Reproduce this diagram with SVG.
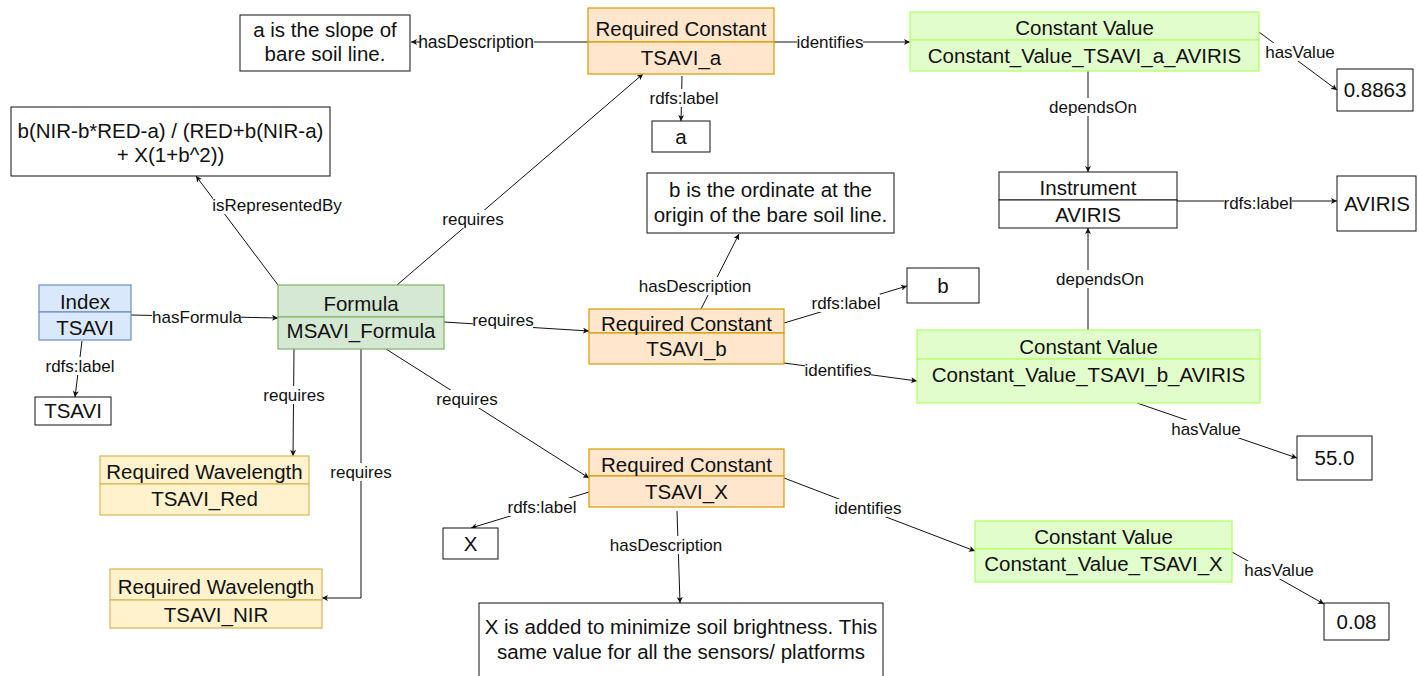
<svg xmlns="http://www.w3.org/2000/svg" width="1419" height="676" viewBox="0 0 1419 676">
  <defs>
    <marker id="arrow" markerUnits="userSpaceOnUse" markerWidth="7" markerHeight="6" refX="6" refY="3" orient="auto">
      <path d="M0,0 L6,3 L0,6 L1.5,3 z" fill="#111"/>
    </marker>
    <style>
      text { font-family: "Liberation Sans", Arial, sans-serif; fill: #111; }
      .n { font-size: 20.5px; text-anchor: middle; }
      .l { font-size: 17px; text-anchor: middle; }
      .lb { fill: #fff; stroke: none; }
      .edge { fill: none; stroke: #111; stroke-width: 1; }
      .arr { marker-end: url(#arrow); }
      .plain { fill: #fff; stroke: #111; stroke-width: 1; }
      .rc { fill: #ffe6cc; stroke: #d79b00; stroke-width: 1.2; }
      .rw { fill: #fff2cc; stroke: #d6b656; stroke-width: 1.2; }
      .cv { fill: #e2fdcc; stroke: #b3ff66; stroke-width: 1.2; }
      .ix { fill: #dae8fc; stroke: #6c8ebf; stroke-width: 1.2; }
      .fm { fill: #d5e8d4; stroke: #82b366; stroke-width: 1.2; }
    </style>
  </defs>

  <!-- connectors -->
  <g id="connectors">
    <line class="edge arr" x1="588" y1="42" x2="411" y2="42"/>
    <line class="edge arr" x1="774" y1="42" x2="910" y2="42"/>
    <line class="edge arr" x1="682" y1="76" x2="681" y2="121"/>
    <line class="edge arr" x1="1259" y1="32" x2="1337" y2="90"/>
    <line class="edge arr" x1="1088" y1="71" x2="1088" y2="172"/>
    <line class="edge arr" x1="1177" y1="201" x2="1337" y2="201"/>
    <line class="edge arr" x1="1088" y1="330" x2="1088" y2="228"/>
    <line class="edge arr" x1="701" y1="309" x2="739" y2="234"/>
    <line class="edge arr" x1="784" y1="323" x2="907" y2="286"/>
    <line class="edge arr" x1="784" y1="363" x2="917" y2="381"/>
    <line class="edge arr" x1="1137" y1="403" x2="1297" y2="458"/>
    <line class="edge arr" x1="131" y1="315" x2="278" y2="318"/>
    <line class="edge arr" x1="82" y1="341" x2="75" y2="397"/>
    <line class="edge arr" x1="278" y1="285" x2="196" y2="176"/>
    <line class="edge arr" x1="397" y1="285" x2="643" y2="74"/>
    <line class="edge arr" x1="444" y1="322" x2="589" y2="331"/>
    <line class="edge arr" x1="386" y1="349" x2="589" y2="478"/>
    <line class="edge arr" x1="294" y1="349" x2="293" y2="456"/>
    <polyline class="edge arr" points="361,349 361,598 322,598"/>
    <line class="edge arr" x1="589" y1="492" x2="471" y2="528"/>
    <line class="edge arr" x1="677" y1="511" x2="680" y2="603"/>
    <line class="edge arr" x1="784" y1="478" x2="975" y2="551"/>
    <line class="edge arr" x1="1232" y1="552" x2="1324" y2="604"/>

    <!-- connector labels -->
    <rect class="lb" x="420" y="33" width="114" height="18"/><text class="l" x="476" y="48" style="font-size:17.5px">hasDescription</text>
    <rect class="lb" x="797" y="33" width="66" height="18"/><text class="l" x="830" y="48">identifies</text>
    <rect class="lb" x="650" y="89" width="68" height="18"/><text class="l" x="684" y="104">rdfs:label</text>
    <rect class="lb" x="1265" y="43" width="70" height="18"/><text class="l" x="1300" y="58">hasValue</text>
    <rect class="lb" x="1049" y="98" width="87" height="18"/><text class="l" x="1093" y="113">dependsOn</text>
    <rect class="lb" x="1224" y="194" width="68" height="18"/><text class="l" x="1258" y="209">rdfs:label</text>
    <rect class="lb" x="1056" y="270" width="87" height="18"/><text class="l" x="1100" y="285">dependsOn</text>
    <rect class="lb" x="639" y="277" width="111" height="18"/><text class="l" x="695" y="292">hasDescription</text>
    <rect class="lb" x="812" y="294" width="68" height="18"/><text class="l" x="846" y="309">rdfs:label</text>
    <rect class="lb" x="805" y="361" width="66" height="18"/><text class="l" x="838" y="376">identifies</text>
    <rect class="lb" x="1171" y="420" width="70" height="18"/><text class="l" x="1206" y="435">hasValue</text>
    <rect class="lb" x="152" y="308" width="89" height="18"/><text class="l" x="197" y="323">hasFormula</text>
    <rect class="lb" x="46" y="357" width="68" height="18"/><text class="l" x="80" y="372">rdfs:label</text>
    <rect class="lb" x="213" y="196" width="128" height="18"/><text class="l" x="277" y="211">isRepresentedBy</text>
    <rect class="lb" x="443" y="210" width="60" height="18"/><text class="l" x="473" y="225">requires</text>
    <rect class="lb" x="473" y="311" width="60" height="18"/><text class="l" x="503" y="326">requires</text>
    <rect class="lb" x="437" y="390" width="60" height="18"/><text class="l" x="467" y="405">requires</text>
    <rect class="lb" x="264" y="386" width="60" height="18"/><text class="l" x="294" y="401">requires</text>
    <rect class="lb" x="331" y="463" width="60" height="18"/><text class="l" x="361" y="478">requires</text>
    <rect class="lb" x="508" y="498" width="68" height="18"/><text class="l" x="542" y="513">rdfs:label</text>
    <rect class="lb" x="611" y="536" width="111" height="18"/><text class="l" x="666" y="551">hasDescription</text>
    <rect class="lb" x="835" y="499" width="66" height="18"/><text class="l" x="868" y="514">identifies</text>
    <rect class="lb" x="1244" y="561" width="70" height="18"/><text class="l" x="1279" y="576">hasValue</text>
  </g>

  <!-- description of a -->
  <g id="desc-a">
    <rect class="plain" x="240" y="15" width="170" height="56"/>
    <text class="n" x="325" y="37">a is the slope of</text>
    <text class="n" x="325" y="61">bare soil line.</text>
  </g>

  <!-- formula expression -->
  <g id="formula-expr">
    <rect class="plain" x="11" y="107" width="319" height="69"/>
    <text class="n" x="170.5" y="138">b(NIR-b*RED-a) / (RED+b(NIR-a)</text>
    <text class="n" x="170.5" y="162">+ X(1+b^2))</text>
  </g>

  <g id="const-a">
    <rect class="rc" x="588" y="8" width="186" height="34"/>
    <rect class="rc" x="588" y="42" width="186" height="32"/>
    <text class="n" x="681" y="36">Required Constant</text>
    <text class="n" x="681" y="65">TSAVI_a</text>
  </g>

  <g id="label-a">
    <rect class="plain" x="652" y="121" width="58" height="31"/>
    <text class="n" x="681" y="144">a</text>
  </g>

  <g id="value-a">
    <rect class="cv" x="910" y="12" width="349" height="28"/>
    <rect class="cv" x="910" y="40" width="349" height="31"/>
    <text class="n" x="1084.5" y="35">Constant Value</text>
    <text class="n" x="1084.5" y="63">Constant_Value_TSAVI_a_AVIRIS</text>
  </g>

  <g id="num-a">
    <rect class="plain" x="1337" y="69" width="76" height="42"/>
    <text class="n" x="1375" y="97">0.8863</text>
  </g>

  <g id="instrument">
    <rect class="plain" x="999" y="172" width="178" height="28"/>
    <rect class="plain" x="999" y="200" width="178" height="28"/>
    <text class="n" x="1088" y="195">Instrument</text>
    <text class="n" x="1088" y="222">AVIRIS</text>
  </g>

  <g id="label-aviris">
    <rect class="plain" x="1337" y="176" width="79" height="55"/>
    <text class="n" x="1377" y="211">AVIRIS</text>
  </g>

  <g id="desc-b">
    <rect class="plain" x="647" y="173" width="247" height="60"/>
    <text class="n" x="770.5" y="197">b is the ordinate at the</text>
    <text class="n" x="770.5" y="222">origin of the bare soil line.</text>
  </g>

  <g id="const-b">
    <rect class="rc" x="589" y="309" width="195" height="24"/>
    <rect class="rc" x="589" y="333" width="195" height="31"/>
    <text class="n" x="686.5" y="331">Required Constant</text>
    <text class="n" x="686.5" y="356">TSAVI_b</text>
  </g>

  <g id="label-b">
    <rect class="plain" x="907" y="268" width="72" height="35"/>
    <text class="n" x="943" y="293">b</text>
  </g>

  <g id="value-b">
    <rect class="cv" x="917" y="330" width="343" height="29"/>
    <rect class="cv" x="917" y="359" width="343" height="44"/>
    <text class="n" x="1088.5" y="354">Constant Value</text>
    <text class="n" x="1088.5" y="382">Constant_Value_TSAVI_b_AVIRIS</text>
  </g>

  <g id="num-b">
    <rect class="plain" x="1297" y="436" width="75" height="44"/>
    <text class="n" x="1334.5" y="465">55.0</text>
  </g>

  <g id="index">
    <rect class="ix" x="39" y="285" width="92" height="27"/>
    <rect class="ix" x="39" y="312" width="92" height="28"/>
    <text class="n" x="85" y="309">Index</text>
    <text class="n" x="85" y="335">TSAVI</text>
  </g>

  <g id="label-index">
    <rect class="plain" x="35" y="397" width="76" height="28"/>
    <text class="n" x="73" y="418">TSAVI</text>
  </g>

  <g id="formula">
    <rect class="fm" x="278" y="285" width="166" height="32"/>
    <rect class="fm" x="278" y="317" width="166" height="32"/>
    <text class="n" x="361" y="311">Formula</text>
    <text class="n" x="361" y="338">MSAVI_Formula</text>
  </g>

  <g id="wavelength-red">
    <rect class="rw" x="100" y="456" width="209" height="28"/>
    <rect class="rw" x="100" y="484" width="209" height="31"/>
    <text class="n" x="204.5" y="479">Required Wavelength</text>
    <text class="n" x="204.5" y="506">TSAVI_Red</text>
  </g>

  <g id="wavelength-nir">
    <rect class="rw" x="110" y="569" width="212" height="31"/>
    <rect class="rw" x="110" y="600" width="212" height="28"/>
    <text class="n" x="216" y="594">Required Wavelength</text>
    <text class="n" x="216" y="622">TSAVI_NIR</text>
  </g>

  <g id="const-x">
    <rect class="rc" x="589" y="449" width="195" height="27"/>
    <rect class="rc" x="589" y="476" width="195" height="31"/>
    <text class="n" x="686.5" y="472">Required Constant</text>
    <text class="n" x="686.5" y="499">TSAVI_X</text>
  </g>

  <g id="label-x">
    <rect class="plain" x="443" y="528" width="55" height="31"/>
    <text class="n" x="470.5" y="551">X</text>
  </g>

  <g id="desc-x">
    <rect class="plain" x="479" y="603" width="404" height="80"/>
    <text class="n" x="681" y="634">X is added to minimize soil brightness. This</text>
    <text class="n" x="681" y="659">same value for all the sensors/ platforms</text>
  </g>

  <g id="value-x">
    <rect class="cv" x="975" y="521" width="257" height="28"/>
    <rect class="cv" x="975" y="549" width="257" height="33"/>
    <text class="n" x="1103.5" y="544">Constant Value</text>
    <text class="n" x="1103.5" y="571">Constant_Value_TSAVI_X</text>
  </g>

  <g id="num-x">
    <rect class="plain" x="1324" y="603" width="65" height="37"/>
    <text class="n" x="1356.5" y="629">0.08</text>
  </g>
</svg>
